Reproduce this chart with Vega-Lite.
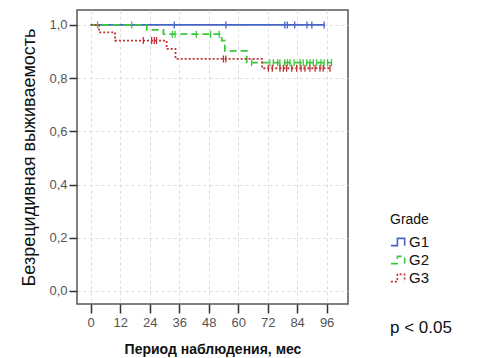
{
  "$schema": "https://vega.github.io/schema/vega-lite/v6.json",
  "width": 271,
  "height": 294,
  "autosize": {"type": "none"},
  "padding": {"left": 77, "top": 10, "right": 131, "bottom": 54},
  "background": "white",
  "config": {
    "font": "Liberation Sans",
    "view": {"stroke": "#555", "strokeWidth": 1.5},
    "axis": {
      "domain": false,
      "grid": true,
      "gridDash": [3, 3],
      "gridColor": "#dcdcdc",
      "tickColor": "#333",
      "tickWidth": 1.5,
      "labelColor": "#555",
      "labelFontSize": 13,
      "labelFont": "Liberation Sans",
      "titleFont": "Liberation Sans",
      "titleColor": "#111"
    }
  },
  "datasets": {
    "km": [
      {"g": "G1", "t": 0, "s": 1, "c": 0},
      {"g": "G1", "t": 34, "s": 1, "c": 1},
      {"g": "G1", "t": 55, "s": 1, "c": 1},
      {"g": "G1", "t": 79, "s": 1, "c": 1},
      {"g": "G1", "t": 80, "s": 1, "c": 1},
      {"g": "G1", "t": 83, "s": 1, "c": 1},
      {"g": "G1", "t": 88, "s": 1, "c": 1},
      {"g": "G1", "t": 90, "s": 1, "c": 1},
      {"g": "G1", "t": 95, "s": 1, "c": 1},

      {"g": "G2", "t": 0, "s": 1, "c": 0},
      {"g": "G2", "t": 2.8, "s": 1, "c": 1},
      {"g": "G2", "t": 16.7, "s": 1, "c": 1},
      {"g": "G2", "t": 22.8, "s": 0.981, "c": 0},
      {"g": "G2", "t": 29.6, "s": 0.965, "c": 0},
      {"g": "G2", "t": 33.2, "s": 0.965, "c": 1},
      {"g": "G2", "t": 34.3, "s": 0.965, "c": 1},
      {"g": "G2", "t": 43, "s": 0.965, "c": 1},
      {"g": "G2", "t": 48.8, "s": 0.965, "c": 1},
      {"g": "G2", "t": 52.3, "s": 0.965, "c": 1},
      {"g": "G2", "t": 53.3, "s": 0.941, "c": 0},
      {"g": "G2", "t": 54.6, "s": 0.902, "c": 0},
      {"g": "G2", "t": 63.5, "s": 0.858, "c": 0},
      {"g": "G2", "t": 65.5, "s": 0.858, "c": 1},
      {"g": "G2", "t": 72.9, "s": 0.858, "c": 1},
      {"g": "G2", "t": 74.3, "s": 0.858, "c": 1},
      {"g": "G2", "t": 76.1, "s": 0.858, "c": 1},
      {"g": "G2", "t": 77, "s": 0.858, "c": 1},
      {"g": "G2", "t": 79, "s": 0.858, "c": 1},
      {"g": "G2", "t": 80.1, "s": 0.858, "c": 1},
      {"g": "G2", "t": 81.1, "s": 0.858, "c": 1},
      {"g": "G2", "t": 82.8, "s": 0.858, "c": 1},
      {"g": "G2", "t": 85.2, "s": 0.858, "c": 1},
      {"g": "G2", "t": 86.5, "s": 0.858, "c": 1},
      {"g": "G2", "t": 87.9, "s": 0.858, "c": 1},
      {"g": "G2", "t": 89.2, "s": 0.858, "c": 1},
      {"g": "G2", "t": 90.6, "s": 0.858, "c": 1},
      {"g": "G2", "t": 91.9, "s": 0.858, "c": 1},
      {"g": "G2", "t": 93.7, "s": 0.858, "c": 1},
      {"g": "G2", "t": 95, "s": 0.858, "c": 1},
      {"g": "G2", "t": 96.4, "s": 0.858, "c": 1},
      {"g": "G2", "t": 98, "s": 0.858, "c": 1},

      {"g": "G3", "t": 0, "s": 1, "c": 0},
      {"g": "G3", "t": 3.4, "s": 0.972, "c": 0},
      {"g": "G3", "t": 9.9, "s": 0.941, "c": 0},
      {"g": "G3", "t": 21.4, "s": 0.941, "c": 1},
      {"g": "G3", "t": 24.8, "s": 0.941, "c": 1},
      {"g": "G3", "t": 25.9, "s": 0.941, "c": 1},
      {"g": "G3", "t": 26.8, "s": 0.941, "c": 1},
      {"g": "G3", "t": 30.9, "s": 0.91, "c": 0},
      {"g": "G3", "t": 34.5, "s": 0.872, "c": 0},
      {"g": "G3", "t": 54, "s": 0.872, "c": 1},
      {"g": "G3", "t": 55, "s": 0.872, "c": 1},
      {"g": "G3", "t": 69.7, "s": 0.837, "c": 0},
      {"g": "G3", "t": 72.3, "s": 0.837, "c": 1},
      {"g": "G3", "t": 73.9, "s": 0.837, "c": 1},
      {"g": "G3", "t": 77, "s": 0.837, "c": 1},
      {"g": "G3", "t": 78.4, "s": 0.837, "c": 1},
      {"g": "G3", "t": 79.7, "s": 0.837, "c": 1},
      {"g": "G3", "t": 81.8, "s": 0.837, "c": 1},
      {"g": "G3", "t": 83.8, "s": 0.837, "c": 1},
      {"g": "G3", "t": 85.6, "s": 0.837, "c": 1},
      {"g": "G3", "t": 87.2, "s": 0.837, "c": 1},
      {"g": "G3", "t": 89.2, "s": 0.837, "c": 1},
      {"g": "G3", "t": 91.3, "s": 0.837, "c": 1},
      {"g": "G3", "t": 93.3, "s": 0.837, "c": 1},
      {"g": "G3", "t": 94.6, "s": 0.837, "c": 1},
      {"g": "G3", "t": 97.4, "s": 0.837, "c": 1}
    ],
    "note": [{"label": "p < 0.05"}]
  },
  "layer": [
    {
      "data": {"name": "km"},
      "mark": {"type": "line", "interpolate": "step-after", "strokeWidth": 1.8},
      "encoding": {
        "x": {
          "field": "t", "type": "quantitative",
          "scale": {"domain": [-5.57, 104.7], "nice": false, "zero": false},
          "axis": {
            "values": [0, 12, 24, 36, 48, 60, 72, 84, 96],
            "tickCount": 20,
            "tickSize": 9,
            "labelPadding": 3,
            "labelOverlap": false,
            "labelFlush": false,
            "title": "Период наблюдения, мес",
            "titleFontSize": 14,
            "titleFontWeight": "bold",
            "titlePadding": 13
          }
        },
        "y": {
          "field": "s", "type": "quantitative",
          "scale": {"domain": [-0.049, 1.056], "nice": false, "zero": false},
          "axis": {
            "values": [0, 0.2, 0.4, 0.6, 0.8, 1.0],
            "tickCount": 20,
            "labelExpr": "replace(format(datum.value, '.1f'), '.', ',')",
            "labelOverlap": false,
            "tickSize": 8,
            "labelPadding": 2,
            "title": "Безрецидивная выживаемость",
            "titleFontSize": 18,
            "titleFontWeight": "normal",
            "titlePadding": 10
          }
        },
        "color": {
          "field": "g", "type": "nominal",
          "scale": {"domain": ["G1", "G2", "G3"], "range": ["#4465c8", "#3cc83c", "#c03232"]},
          "legend": {
            "title": "Grade",
            "orient": "none",
            "legendX": 313,
            "legendY": 203,
            "titleFontSize": 14,
            "titleFontWeight": "normal",
            "titleColor": "#111",
            "titleAnchor": "start",
            "titlePadding": 6,
            "labelFontSize": 15,
            "labelColor": "#111",
            "labelOffset": 1,
            "symbolType": "M-1,0.45H-0.2V-0.45H0.7V0.45",
            "symbolSize": 260,
            "symbolStrokeWidth": 1.6,
            "rowPadding": 1
          }
        },
        "strokeDash": {
          "field": "g", "type": "nominal",
          "scale": {"domain": ["G1", "G2", "G3"], "range": [[1, 0], [7, 4], [2, 2]]},
          "legend": null
        }
      }
    },
    {
      "data": {"name": "km"},
      "transform": [{"filter": "datum.c == 1"}],
      "mark": {"type": "point", "shape": "M0,-1V1", "filled": false, "size": 49, "strokeWidth": 1.3, "opacity": 1},
      "encoding": {
        "x": {"field": "t", "type": "quantitative"},
        "y": {"field": "s", "type": "quantitative"},
        "color": {"field": "g", "type": "nominal", "legend": null}
      }
    },
    {
      "data": {"name": "note"},
      "mark": {"type": "text", "align": "left", "baseline": "middle", "fontSize": 17, "color": "#111", "font": "Liberation Sans"},
      "encoding": {
        "x": {"datum": 121.8, "type": "quantitative"},
        "y": {"datum": -0.139, "type": "quantitative"},
        "text": {"field": "label"}
      }
    }
  ]
}
